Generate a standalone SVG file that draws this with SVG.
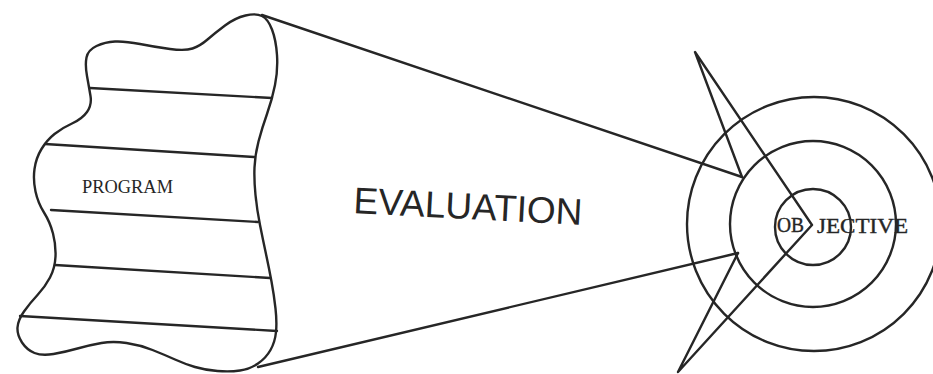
<svg xmlns="http://www.w3.org/2000/svg" width="933" height="374" viewBox="0 0 933 374">
<style>
.ln{fill:none;stroke:#262626;stroke-width:2.4;stroke-linecap:round;stroke-linejoin:round}
.serif{font-family:"Liberation Serif","Times New Roman",serif;fill:#262626}
.type{font-family:"Liberation Serif","Times New Roman",serif;fill:#262626;stroke:#262626;stroke-width:0.4}
.sans{font-family:"Liberation Sans",Arial,sans-serif;fill:#262626}
</style>
<rect width="933" height="374" fill="#ffffff"/>
<g id="program">
<path class="ln" d="M245.5,15.5 Q256,13 262,16 Q268,19 272,29.5 Q276,40 277,55 Q278,70 275,85 Q272,100 267,114 Q262,128 258.5,141.5 Q255,155 254.5,167.5 Q254,180 255.5,195 Q257,210 260,225 Q263,240 266,254 Q269,268 271.5,281.5 Q274,295 275.5,308.5 Q277,322 276,332 Q275,342 270.5,350 Q266,358 258,363.5 Q250,369 240,370.5 Q230,372 217.5,371 Q205,370 195,367 Q185,364 175,359.5 Q165,355 152.5,350 Q140,345 126.5,343 Q113,341 101.5,343 Q90,345 77.5,348.5 Q65,352 53.5,354 Q42,356 34.5,353 Q27,350 22,342.5 Q17,335 17.5,327.5 Q18,320 24,311.5 Q30,303 37.5,295 Q45,287 50,277.5 Q55,268 55.5,256.5 Q56,245 53,233.5 Q50,222 44,212.5 Q38,203 35.5,191.5 Q33,180 34.5,169 Q36,158 41.5,149 Q47,140 54.5,134 Q62,128 72,123.5 Q82,119 87,112 Q92,105 90.5,96 Q89,87 87,76 Q85,65 86.5,57.5 Q88,50 96.5,46 Q105,42 115,41.5 Q125,41 140,44 Q155,47 170,49 Q185,51 192.5,48.5 Q200,46 207.5,39.5 Q215,33 225,25.5 Q235,18 245.5,15.5 Z"/>
<path class="ln" d="M90,88 L272,98 M45,144 L254,157 M51,210 L258,222 M55,265 L270,278 M20,316 L277,331"/>
<text class="serif" x="82" y="193" font-size="19" textLength="91" lengthAdjust="spacingAndGlyphs">PROGRAM</text>
</g>
<g id="evaluation">
<text class="sans" x="353" y="213" font-size="37" textLength="229" lengthAdjust="spacingAndGlyphs" transform="rotate(3 353 213)">EVALUATION</text>
</g>
<g id="objective">
<circle class="ln" cx="814" cy="224" r="127"/>
<circle class="ln" cx="813" cy="224" r="83"/>
<circle class="ln" cx="813" cy="227" r="38"/>
<text class="type" x="777" y="232" font-size="22" textLength="27" lengthAdjust="spacingAndGlyphs">OB</text>
<text class="type" x="817" y="233" font-size="22" textLength="91" lengthAdjust="spacingAndGlyphs">JECTIVE</text>
</g>
<g id="connectors">
<path class="ln" d="M262,15 L742,177 M258,367 L738,253"/>
<path class="ln" d="M742,177 L695,52 L812,225 L678,372 L738,253"/>
</g>
</svg>
